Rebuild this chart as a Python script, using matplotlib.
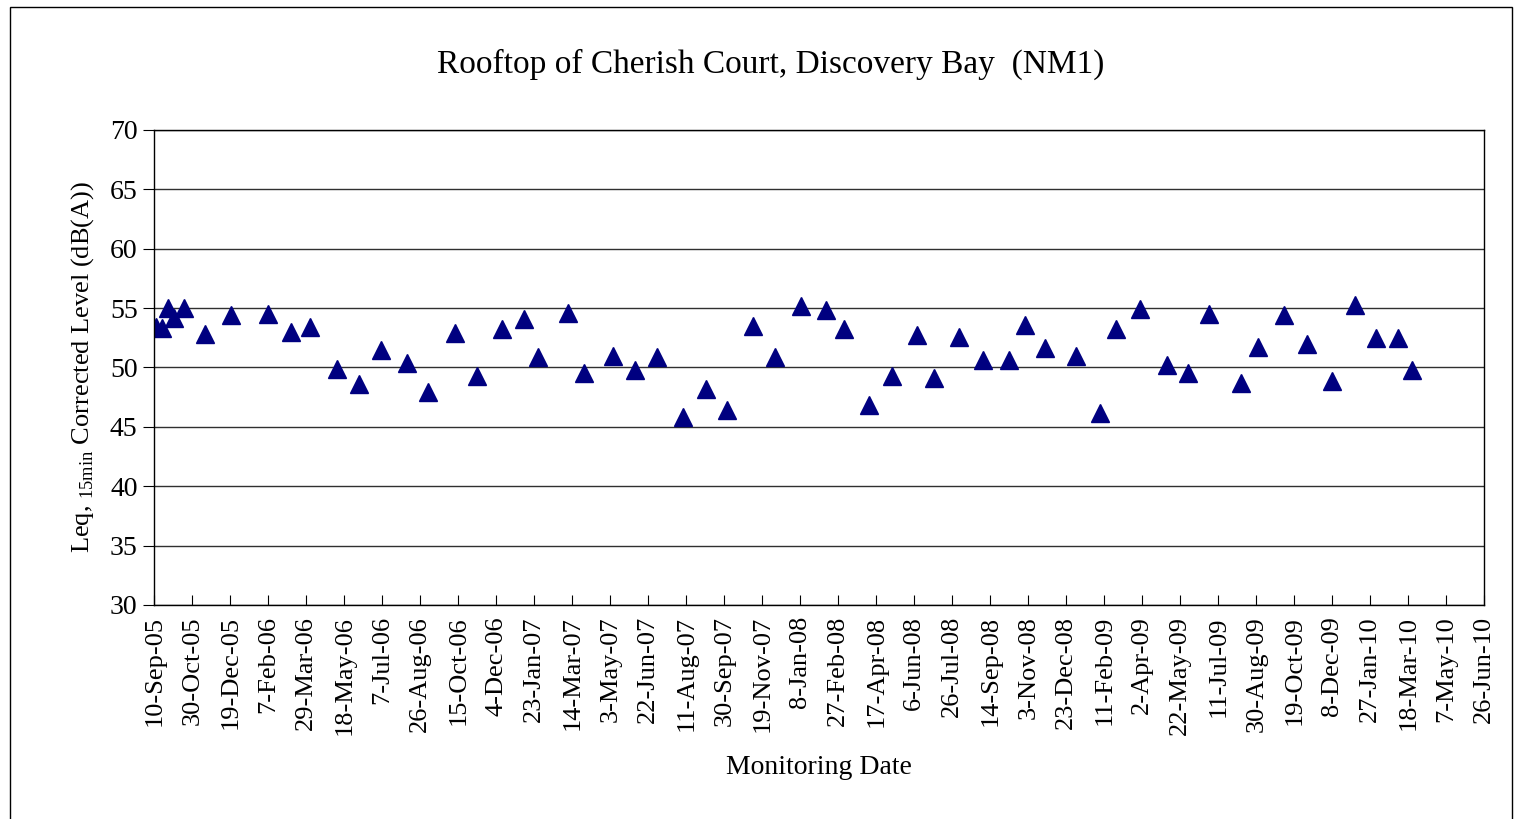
import pandas as pd
import matplotlib
matplotlib.use('Agg')
import matplotlib.pyplot as plt
from matplotlib.patches import Rectangle

fechas = ['2005-09-12', '2005-09-20', '2005-09-28', '2005-10-06', '2005-10-19',
          '2005-11-16', '2005-12-20', '2006-02-06', '2006-03-09', '2006-04-03',
          '2006-05-08', '2006-06-07', '2006-07-05', '2006-08-09', '2006-09-05',
          '2006-10-11', '2006-11-09', '2006-12-11', '2007-01-10', '2007-01-28',
          '2007-03-08', '2007-03-30', '2007-05-07', '2007-06-05', '2007-07-04',
          '2007-08-07', '2007-09-06', '2007-10-04', '2007-11-07', '2007-12-06',
          '2008-01-09', '2008-02-11', '2008-03-06', '2008-04-08', '2008-05-07',
          '2008-06-10', '2008-07-02', '2008-08-04', '2008-09-04', '2008-10-09',
          '2008-10-30', '2008-11-25', '2009-01-05', '2009-02-05', '2009-02-27',
          '2009-03-30', '2009-05-04', '2009-06-01', '2009-06-29', '2009-08-10',
          '2009-09-01', '2009-10-05', '2009-11-05', '2009-12-08', '2010-01-07',
          '2010-02-04', '2010-03-04', '2010-03-23']

niveles = [53.4, 53.3, 55.0, 54.2, 55.0,
           52.8, 54.4, 54.5, 53.0, 53.4,
           49.9, 48.6, 51.5, 50.4, 47.9,
           52.9, 49.3, 53.2, 54.1, 50.9,
           54.6, 49.5, 51.0, 49.8, 50.9,
           45.8, 48.2, 46.4, 53.5, 50.9,
           55.2, 54.8, 53.2, 46.8, 49.3,
           52.7, 49.1, 52.6, 50.6, 50.6,
           53.6, 51.6, 51.0, 46.2, 53.2,
           54.9, 50.2, 49.5, 54.5, 48.7,
           51.7, 54.4, 52.0, 48.9, 55.3,
           52.5, 52.5, 49.8]

inicio = '2005-09-10'
fin = '2010-06-26'

plt.rcParams['font.family'] = ['Liberation Serif', 'DejaVu Serif']
plt.rcParams['mathtext.fontset'] = 'custom'
plt.rcParams['mathtext.rm'] = 'Liberation Serif'

fig = plt.figure(figsize=(15.14, 8.19), dpi=100)
ax = fig.add_axes([0.1019, 0.2613, 0.8785, 0.58])

# marco exterior
fig.patches.append(Rectangle((10 / 1514, -0.05), 1502 / 1514, 1.05 - 6.5 / 819,
                             transform=fig.transFigure, fill=False,
                             edgecolor='black', linewidth=1.0))

x = pd.to_datetime(fechas)
ax.plot(x, niveles, linestyle='none', marker='^', markersize=13,
        color='#000080', markeredgecolor='#000080')

ax.set_xlim(pd.Timestamp(inicio), pd.Timestamp(fin))
ax.set_ylim(30, 70)
ax.set_yticks(range(30, 71, 5))
ax.yaxis.grid(True, color='#303030', linewidth=1.0)
ax.set_axisbelow(True)

ticks = pd.date_range(inicio, fin, freq='50D')
ax.set_xticks(ticks)
ax.set_xticklabels([f'{t.day}-{t.strftime("%b-%y")}' for t in ticks], rotation=90)
ax.tick_params(axis='x', direction='in', length=7, labelsize=19, pad=8)
ax.tick_params(axis='y', direction='out', length=8, labelsize=20, pad=4)

for s in ax.spines.values():
    s.set_color('black')
    s.set_linewidth(1.0)

fig.text(771 / 1514, 1 - 64 / 819, 'Rooftop of Cherish Court, Discovery Bay  (NM1)',
         fontsize=24, ha='center', va='center')
ax.set_xlabel('Monitoring Date', fontsize=20, labelpad=14)
ax.set_ylabel(r'Leq, $_{\mathregular{15min}}$ Corrected Level (dB(A))', fontsize=19, labelpad=10)

fig.savefig('out.png', dpi=100)
